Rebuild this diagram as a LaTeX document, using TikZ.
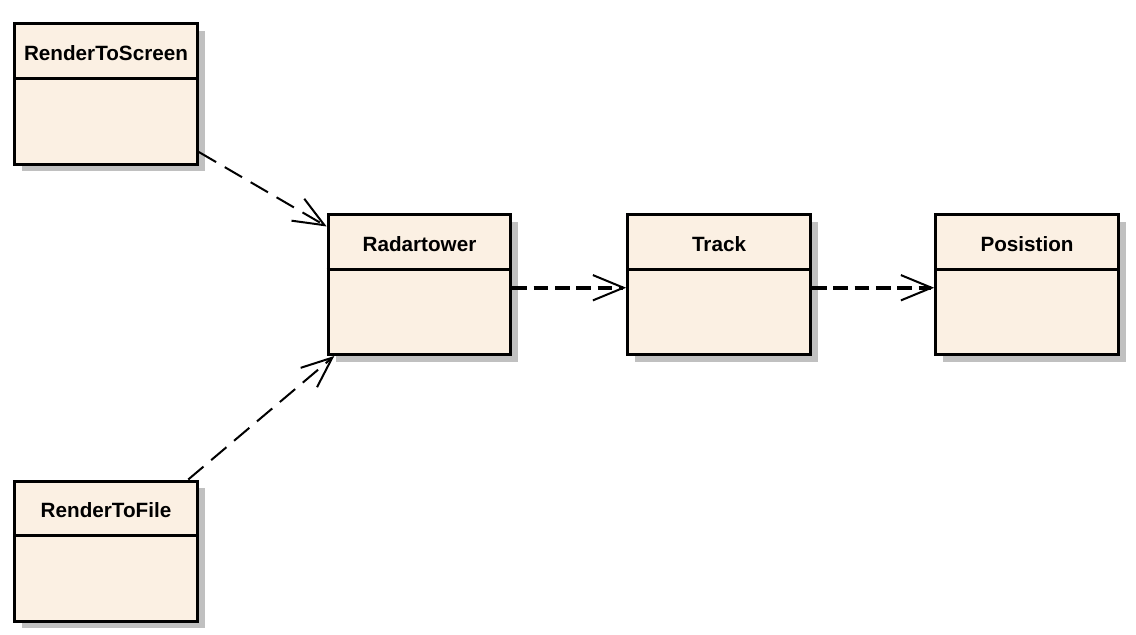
\documentclass[tikz,border=0pt]{standalone}
\usepackage{fontspec}
\setmainfont{Liberation Sans}
\usetikzlibrary{arrows.meta,calc,shadows}
\definecolor{clsfill}{RGB}{251,240,227}
\definecolor{clsshade}{RGB}{192,192,192}
\begin{document}
\begin{tikzpicture}[x=0.75pt,y=-0.75pt,
  cls/.style={draw,line width=2.25pt,fill=clsfill,inner sep=0pt,
    minimum width=137pt,minimum height=105pt,
    drop shadow={shadow xshift=5.5pt,shadow yshift=-5.5pt,fill=clsshade,opacity=1}},
  ttl/.style={font=\fontsize{15.5}{18}\selectfont\bfseries},
  dep/.style={line width=1.5pt,dash pattern=on 15pt off 7.5pt,
    -{Straight Barb[length=23pt,width=19pt,line width=1.5pt]}},
  depthick/.style={dep,line width=3pt,dash pattern=on 11pt off 5pt}]
% class boxes: name, centre, title
\def\umlclass(#1)at(#2)#3{%
  \node[cls] (#1) at (#2) {};
  \node[ttl] (#1t) at ($(#1.north)+(0,31)$) {#3};
  \draw[line width=2.25pt] ($(#1.north west)+(0,56)$) -- ($(#1.north east)+(0,56)$);}
\useasboundingbox (0,0) rectangle (1136,635);
\umlclass(screen)at(106,94){RenderToScreen}
\umlclass(file)at(106,551){RenderToFile}
\umlclass(radar)at(419.5,284.5){Radartower}
\umlclass(track)at(719,284.5){Track}
\umlclass(posit)at(1027,284.5){Posistion}
% dependencies
\draw[dep] (screen.-32) -- (radar.148);
\draw[dep] (file.41) -- (radar.220);
\draw[depthick] (radar.-2) -- (track.182);
\draw[depthick] (track.-2) -- (posit.182);
\end{tikzpicture}
\end{document}
